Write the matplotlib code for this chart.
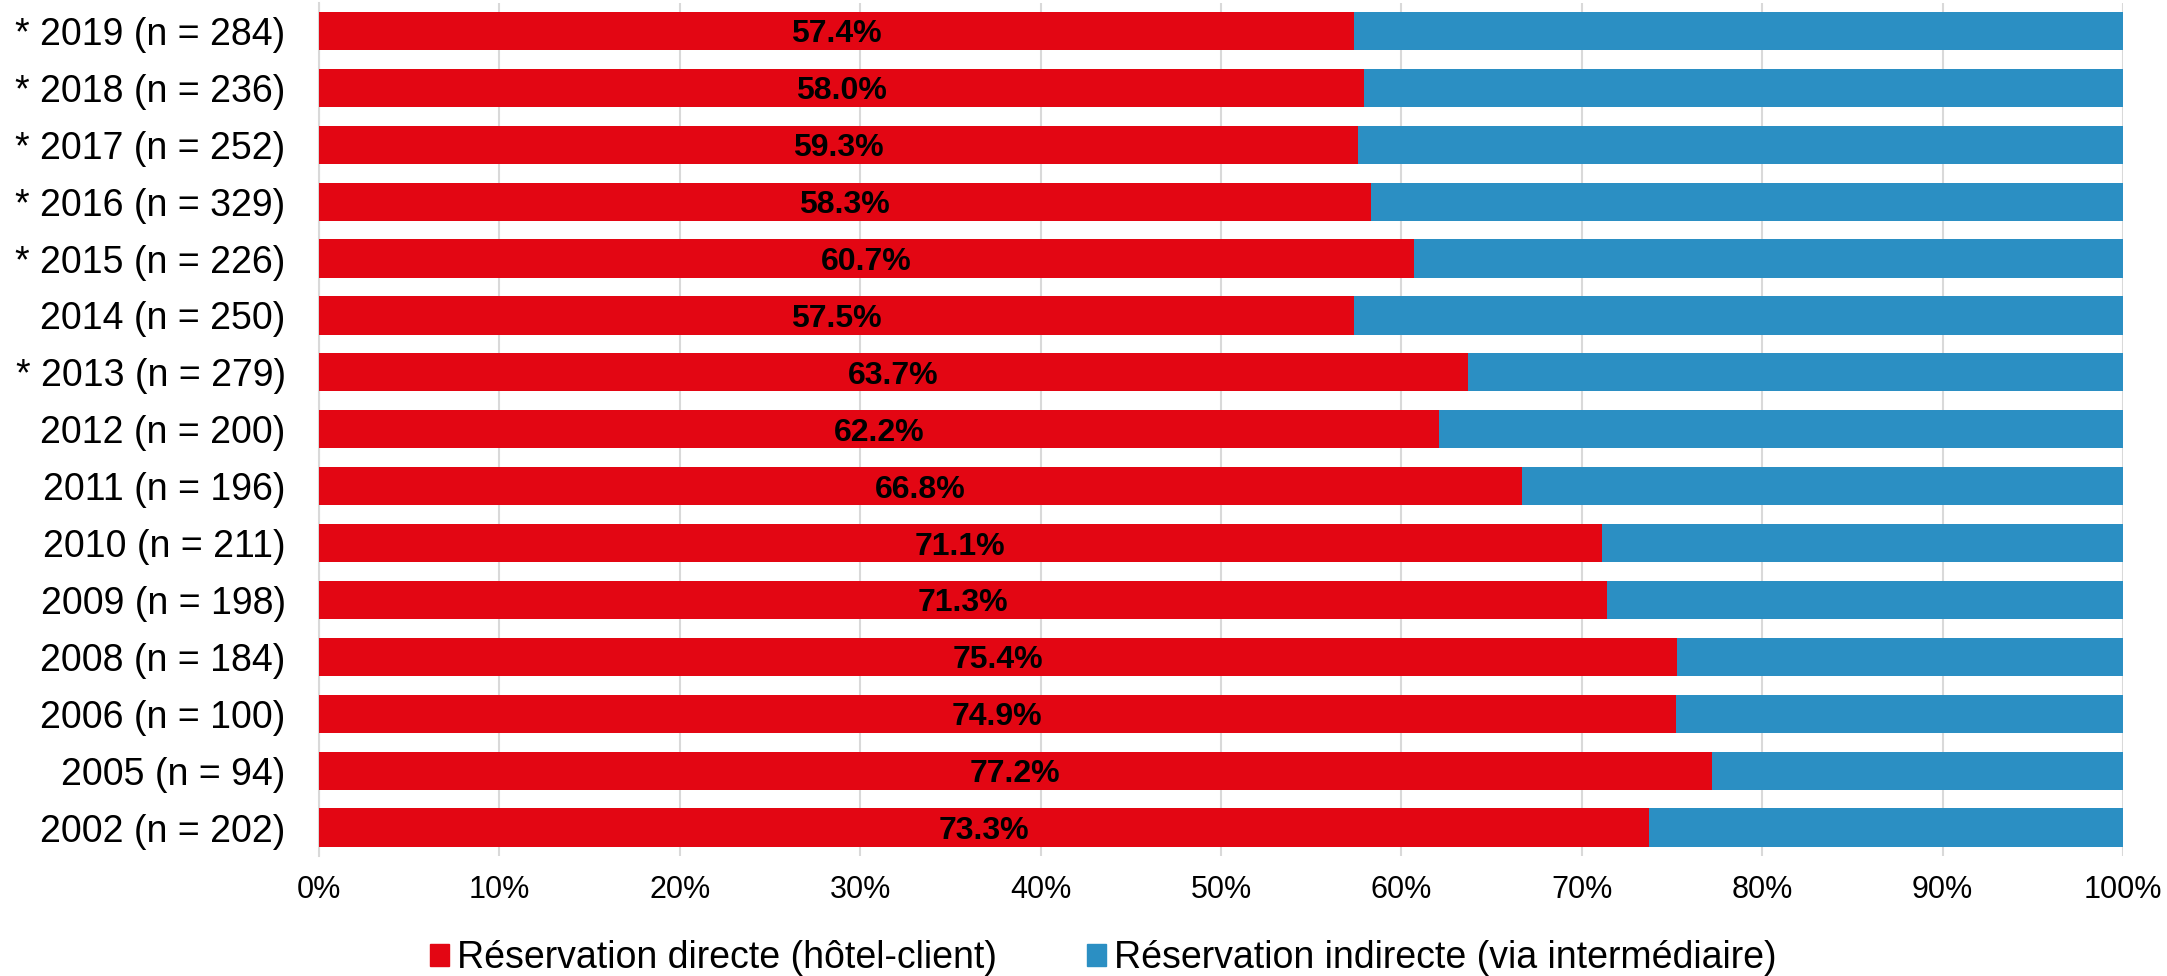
import matplotlib
matplotlib.use("Agg")
import matplotlib.pyplot as plt
from matplotlib.patches import Patch
from matplotlib.ticker import FuncFormatter

plt.rcParams['font.family'] = ['Liberation Sans', 'DejaVu Sans']

categories = ["* 2019 (n = 284)", "* 2018 (n = 236)", "* 2017 (n = 252)", "* 2016 (n = 329)",
              "* 2015 (n = 226)", "2014 (n = 250)", "* 2013 (n = 279)", "2012 (n = 200)",
              "2011 (n = 196)", "2010 (n = 211)", "2009 (n = 198)", "2008 (n = 184)",
              "2006 (n = 100)", "2005 (n = 94)", "2002 (n = 202)"]
direct = [57.4, 57.9, 57.6, 58.3, 60.7, 57.4, 63.7, 62.1, 66.7, 71.1, 71.4, 75.3, 75.2, 77.2, 73.7]
direct_labels = ["57.4%", "58.0%", "59.3%", "58.3%", "60.7%", "57.5%", "63.7%", "62.2%",
                 "66.8%", "71.1%", "71.3%", "75.4%", "74.9%", "77.2%", "73.3%"]
indirect = [100 - v for v in direct]
series_names = ["Réservation directe (hôtel-client)", "Réservation indirecte (via intermédiaire)"]
xticks = [0, 10, 20, 30, 40, 50, 60, 70, 80, 90, 100]

RED = "#E30613"
BLUE = "#2B8FC3"

fig = plt.figure(figsize=(21.67, 9.76), dpi=100)
ax = fig.add_axes([319/2167, 1-856/976, (2123-319)/2167, (856-2.5)/976])

ypos = list(range(len(categories)))
h = 0.67
ax.barh(ypos, direct, height=h, color=RED, zorder=3)
ax.barh(ypos, indirect, left=direct, height=h, color=BLUE, zorder=3)

for y, v, lab in zip(ypos, direct, direct_labels):
    ax.text(v/2, y, lab, ha='center', va='center_baseline', fontsize=23, fontweight='bold',
            color='black', zorder=4)

ax.set_xlim(0, 100)
ax.set_ylim(len(categories)-0.5, -0.5)
ax.set_yticks(ypos)
ax.set_yticklabels(categories, fontsize=27)
ax.set_xticks(xticks)
ax.xaxis.set_major_formatter(FuncFormatter(lambda x, p: f"{int(x)}%"))
ax.tick_params(axis='x', labelsize=22, length=0, pad=14)
ax.tick_params(axis='y', length=0, pad=24)
ax.grid(axis='x', color='#D9D9D9', linewidth=1.5, zorder=0)
for s in ['top', 'right', 'bottom']:
    ax.spines[s].set_visible(False)
ax.spines['left'].set_color('#D9D9D9')
ax.spines['left'].set_linewidth(1.5)

handles = [Patch(color=RED), Patch(color=BLUE)]
fig.legend(handles, series_names, loc='center', bbox_to_anchor=(1103/2167, 1-958/976),
           ncol=2, frameon=False, fontsize=27, handlelength=0.52, handleheight=0.52,
           handletextpad=0.2, columnspacing=2.4, borderpad=0)

fig.savefig("out.png", dpi=100)
